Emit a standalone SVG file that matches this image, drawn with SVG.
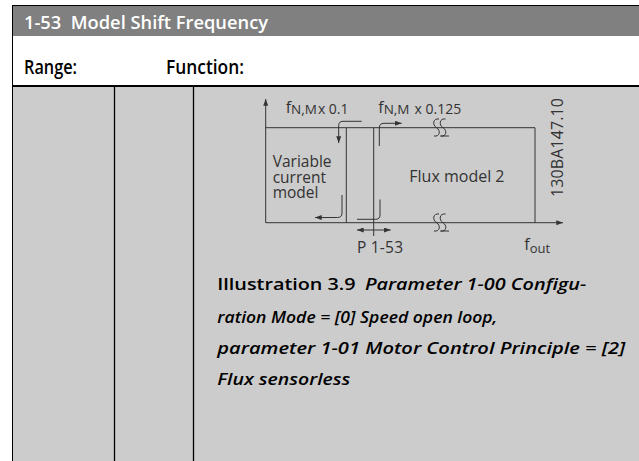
<svg xmlns="http://www.w3.org/2000/svg" width="639" height="461" viewBox="0 0 639 461">
<defs>
<marker id="ah" viewBox="0 0 8 6" refX="8" refY="3" markerWidth="7" markerHeight="5" markerUnits="userSpaceOnUse" orient="auto"><path d="M0,0 L8,3 L0,6 z" fill="#333"/></marker>
</defs>
<style>
.ln{stroke:#333;stroke-width:1;fill:none}
.tb{stroke:#000;fill:none}
.dt{font-family:'Open Sans','Liberation Sans',sans-serif;fill:#333;font-size:16px}
.hd{font-family:'Open Sans','Liberation Sans',sans-serif;font-weight:600;fill:#000}
.cap{font-family:'Open Sans','Liberation Sans',sans-serif;font-weight:600;font-size:17px;fill:#000}
</style>
<g id="table">
<rect x="0" y="0" width="639" height="461" fill="#fff"/>
<rect x="12" y="5" width="627" height="31" fill="#808080"/>
<rect x="12" y="86" width="627" height="375" fill="#cccccc"/>
<line class="tb" x1="12" y1="5.5" x2="639" y2="5.5"/>
<line class="tb" x1="12.5" y1="5" x2="12.5" y2="461"/>
<line class="tb" x1="12" y1="86" x2="639" y2="86" stroke-width="2"/>
<line class="tb" x1="114.5" y1="86" x2="114.5" y2="461" stroke-width="1.3"/>
<line class="tb" x1="193.5" y1="86" x2="193.5" y2="461" stroke-width="1.3"/>
<text class="hd" x="24" y="29" font-size="18" style="fill:#fff" textLength="244" lengthAdjust="spacingAndGlyphs" xml:space="preserve">1-53  Model Shift Frequency</text>
<text class="hd" x="24" y="74" font-size="20" textLength="53" lengthAdjust="spacingAndGlyphs">Range:</text>
<text class="hd" x="166" y="74" font-size="20" textLength="78" lengthAdjust="spacingAndGlyphs">Function:</text>
</g>
<g id="axes">
<path class="ln" d="M265.7,222.7 V99" marker-end="url(#ah)"/>
<path class="ln" d="M265.7,222.7 H563" marker-end="url(#ah)"/>
</g>
<g id="variable-current-model">
<path class="ln" d="M265.7,127.7 H346.3 V222.7"/>
<text class="dt" x="272.7" y="167.3" style="font-size:15.5px">Variable</text>
<text class="dt" x="272.7" y="182.7" style="font-size:15.5px">current</text>
<text class="dt" x="272.7" y="198.3" style="font-size:15.5px">model</text>
</g>
<g id="flux-model-2">
<path class="ln" d="M346.3,127.7 H535 V222.7"/>
<text class="dt" x="409.3" y="182.3">Flux model 2</text>
</g>
<g id="p153-line">
<path class="ln" d="M373.7,127.7 V236"/>
</g>
<g id="breaks">
<path class="ln" d="M439,119 C433,118 432,125 436.5,127.7 C441,130.5 440,137 434,136 M445.5,119 C439.5,118 438.5,125 443,127.7 C447.5,130.5 446.5,137 440.5,136 H449"/>
<path class="ln" d="M439,214 C433,213 432,220 436.5,222.7 C441,225.5 440,232 434,231 M445.5,214 C439.5,213 438.5,220 443,222.7 C447.5,225.5 446.5,232 440.5,231 H449"/>
</g>
<g id="labels">
<text class="dt" x="285.7" y="113"><tspan>f</tspan><tspan font-size="13.5" dy="1">N,M</tspan><tspan font-size="14" dx="1">x 0.1</tspan></text>
<text class="dt" x="378.3" y="113"><tspan>f</tspan><tspan font-size="13.5" dy="1">N,M</tspan><tspan font-size="14" dx="5">x 0.125</tspan></text>
<text class="dt" x="524.3" y="250"><tspan>f</tspan><tspan font-size="13" dy="3">out</tspan></text>
<text class="dt" x="357" y="252.7" style="font-size:15.5px" textLength="46">P 1-53</text>
<text class="dt" transform="translate(563,197) rotate(-90)" x="0" y="0" textLength="99">130BA147.10</text>
</g>
<g id="connectors">
<path class="ln" d="M373.7,230 H357" marker-end="url(#ah)"/>
<path class="ln" d="M373.7,230 H390.7" marker-end="url(#ah)"/>
<path class="ln" d="M361.7,121.3 H343 Q338.7,121.3 338.7,125.5 V143" marker-end="url(#ah)"/>
<path class="ln" d="M379.3,146 V128 Q379.3,123.3 384,123.3 H401.7" marker-end="url(#ah)"/>
<path class="ln" d="M342,195 V213 Q342,217.5 337.5,217.5 H315" marker-end="url(#ah)"/>
<path class="ln" d="M380,199.5 V215 Q380,219.3 375.5,219.3 H357"/>
</g>
<g id="caption">
<text class="cap" x="217.3" y="290" textLength="369" lengthAdjust="spacingAndGlyphs"><tspan>Illustration 3.9</tspan><tspan font-style="italic" dx="8">Parameter 1-00 Configu-</tspan></text>
<text class="cap" x="217.3" y="322.7" font-style="italic" textLength="280" lengthAdjust="spacingAndGlyphs">ration Mode = [0] Speed open loop,</text>
<text class="cap" x="217.3" y="354" font-style="italic" textLength="408" lengthAdjust="spacingAndGlyphs">parameter 1-01 Motor Control Principle = [2]</text>
<text class="cap" x="217.3" y="385" font-style="italic" textLength="133" lengthAdjust="spacingAndGlyphs">Flux sensorless</text>
</g>
</svg>
